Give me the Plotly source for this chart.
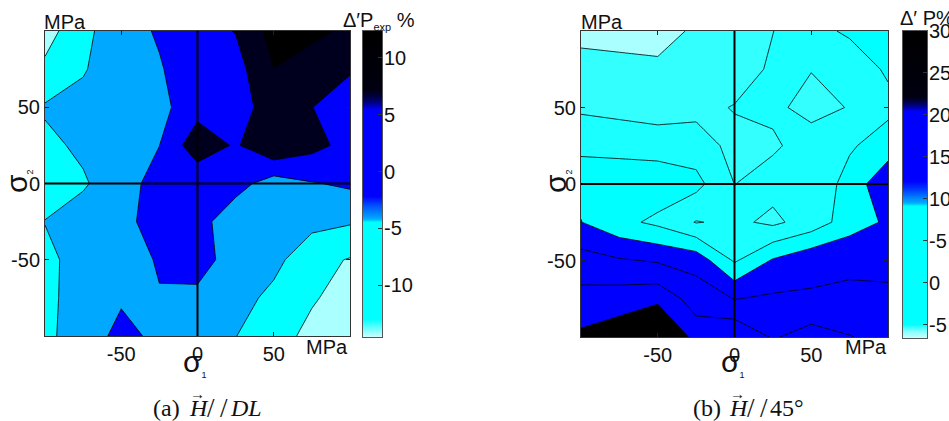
import plotly.graph_objects as go

# ---------------- data ----------------
sigma1 = [-100, -75, -50, -25, 0, 25, 50, 75, 100]
sigma2 = [100, 75, 50, 25, 0, -25, -50, -75, -100]

# (a) H // DL  : Delta'P_exp %
dP_DL = [
    [-12.0, -6.5, -1.5, 0.4, 3.0, 5.2, 11.9, 11.0, 9.2],
    [-9.0, -5.4, -2.0, -0.3, 2.2, 3.06, 9.95, 8.0, 5.3],
    [-4.5, -3.5, -2.0, -1.4, 3.0, 3.15, 7.0, 5.05, 3.4],
    [-6.0, -4.2, -2.0, -0.05, 8.3, 4.37, 9.6, 6.5, 3.375],
    [-7.0, -5.5, -2.4, 2.2, 0.8, 1.9, -2.4, -0.3, 0.8],
    [-4.9, -3.0, -1.5, 2.25, 2.0, -3.3, -3.5, -3.5, -4.5],
    [-6.0, -3.4, -2.0, 0.4, 2.0, -2.2, -3.5, -8.5, -10.3],
    [-6.0, -3.2, -0.6, -0.25, -1.1, -3.0, -6.33, -9.5, -12.0],
    [-6.0, -2.75, 1.5, -1.18, -2.0, -4.9, -8.0, -11.33, -13.0],
]
levels_DL = dict(start=-10, end=10, size=5)
fills_DL = ['#aaffff', '#00ffff', '#00a8ff', '#0000ff', '#00001e', '#000000']

# (b) H // 45deg : Delta'P %  (values in colour-bar position units)
dP_45 = [
    [0.6, 0.5, 0.6, 1.16, 1.5, 1.98, 2.8, 3.1, 3.4],
    [1.5, 1.4, 1.2, 1.3, 1.4, 2.19, 2.02, 2.6, 3.1],
    [1.85, 1.7, 1.5, 1.7, 2.06, 2.13, 1.8, 2.03, 2.8],
    [2.7, 2.65, 2.6, 2.5, 1.7, 1.9, 2.3, 2.9, 3.4],
    [3.77, 3.69, 3.6, 3.3, 1.99, 2.3, 2.4, 3.3, 4.9],
    [4.02, 3.27, 2.79, 1.95, 2.2, 1.8, 2.43, 3.5, 4.16],
    [5.42, 5.1, 4.9, 4.63, 2.88, 4.1, 4.74, 4.9, 4.6],
    [6.33, 6.5, 6.7, 5.55, 4.97, 5.15, 5.1, 5.1, 5.3],
    [7.2, 7.6, 8.8, 6.55, 6.9, 5.9, 6.45, 6.05, 5.6],
]
levels_45 = dict(start=1, end=7, size=1)
fills_45 = ['#aaffff', '#33ffff', '#1affff', '#00ffff',
            '#0000ff', '#0000ff', '#0000ff', '#000000']

axis_ticks = [-50, 0, 50]
axis_ticktext = ['-50', '0', '50']

# colour bars
cbar_DL_stops = [(-14.55, '#c8ffff'), (-13.0, '#00ffff'), (-4.48, '#00ffff'),
                 (-4.2, '#00b0ff'), (-3.95, '#0099ff'), (-3.0, '#0050ff'),
                 (-2.2, '#0000ff'), (5.42, '#0000ff'), (6.0, '#00008c'),
                 (6.6, '#000040'), (7.2, '#000010'), (12.37, '#000000')]
cbar_DL_ticks = [-10, -5, 0, 5, 10]
cbar_DL_ticktext = ['-10', '-5', '0', '5', '10']

cbar_45_stops = [(-6.6, '#c8ffff'), (-5.8, '#80ffff'), (-5.0, '#00ffff'),
                 (9.08, '#00ffff'), (9.5, '#00aaff'), (9.9, '#0090ff'),
                 (11.0, '#0040ff'), (12.06, '#0000ff'), (20.4, '#0000ff'),
                 (21.0, '#000090'), (21.6, '#000040'), (22.2, '#000010'),
                 (30.0, '#000000')]
cbar_45_ticks = [30, 25, 20, 15, 10, 5, 0, -5]
cbar_45_ticktext = ['30', '25', '20', '15', '10', '-5', '0', '-5']

# ---------------- helpers ----------------
W, H = 949, 421
SANS = 'Liberation Sans, Arial, Helvetica, sans-serif'
SERIF = 'Liberation Serif, Times New Roman, serif'


def px(x, y):
    return x / W, 1 - y / H


def band_scale(colors):
    n = len(colors) - 1
    return [[i / n, c] for i, c in enumerate(colors)]


def ramp(stops):
    lo, hi = stops[0][0], stops[-1][0]
    scale = [[(v - lo) / (hi - lo), c] for v, c in stops]
    n = int(round((hi - lo) / 0.02))
    vals = [lo + (hi - lo) * i / n for i in range(n + 1)]
    return vals, scale, lo, hi


fig = go.Figure()

# ---------------- contour plots ----------------
for z, lv, fills, xa, ya in [(dP_DL, levels_DL, fills_DL, 'x', 'y'),
                            (dP_45, levels_45, fills_45, 'x3', 'y3')]:
    fig.add_trace(go.Contour(
        x=sigma1, y=sigma2, z=z, autocontour=False,
        contours=dict(start=lv['start'], end=lv['end'], size=lv['size'],
                      coloring='fill', showlines=True),
        line=dict(color='black', width=0.8, smoothing=0),
        colorscale=band_scale(fills), showscale=False,
        hoverinfo='skip', xaxis=xa, yaxis=ya))

# ---------------- colour bars ----------------
for stops, xa, ya in [(cbar_DL_stops, 'x2', 'y2'), (cbar_45_stops, 'x4', 'y4')]:
    vals, scale, lo, hi = ramp(stops)
    fig.add_trace(go.Heatmap(
        x=[0], y=vals, z=[[v] for v in vals], colorscale=scale,
        zmin=lo, zmax=hi, showscale=False, hoverinfo='skip',
        xaxis=xa, yaxis=ya))

# ---------------- axes ----------------
def main_axes(dx, dy, anchor_x, anchor_y):
    common = dict(range=[-100, 100], tickvals=axis_ticks, ticktext=axis_ticktext,
                  ticks='inside', ticklen=4, tickcolor='#222', showline=True,
                  linecolor='#333', linewidth=1, mirror='allticks',
                  showgrid=False, zeroline=False, automargin=False,
                  tickfont=dict(family=SANS, size=20, color='#111'))
    xa = dict(domain=dx, anchor=anchor_y, **common)
    ya = dict(domain=dy, anchor=anchor_x, **common)
    return xa, ya


def cbar_axes(dx, dy, anchor_x, anchor_y, lo, hi, tv, tt):
    xa = dict(domain=dx, anchor=anchor_y, range=[-0.5, 0.5], showticklabels=False,
              ticks='', showline=True, mirror=True, linecolor='#555', linewidth=1,
              showgrid=False, zeroline=False, automargin=False)
    ya = dict(domain=dy, anchor=anchor_x, side='right', range=[lo, hi],
              tickvals=tv, ticktext=tt, ticks='inside', ticklen=4, tickcolor='#333',
              showline=True, mirror=True, linecolor='#555', linewidth=1,
              showgrid=False, zeroline=False, automargin=False,
              ticklabelstandoff=-3,
              tickfont=dict(family=SANS, size=20, color='#111'))
    return xa, ya


xa1, ya1 = main_axes([45 / W, 350 / W], [1 - 336 / H, 1 - 31 / H], 'x', 'y')
xa3, ya3 = main_axes([581 / W, 888 / W], [1 - 337 / H, 1 - 31 / H], 'x3', 'y3')
xa2, ya2 = cbar_axes([363 / W, 382 / W], [1 - 337 / H, 1 - 31 / H], 'x2', 'y2',
                     cbar_DL_stops[0][0], cbar_DL_stops[-1][0],
                     cbar_DL_ticks, cbar_DL_ticktext)
xa4, ya4 = cbar_axes([903 / W, 927 / W], [1 - 338 / H, 1 - 31 / H], 'x4', 'y4',
                     cbar_45_stops[0][0], cbar_45_stops[-1][0],
                     cbar_45_ticks, cbar_45_ticktext)

fig.update_layout(xaxis=xa1, yaxis=ya1, xaxis2=xa2, yaxis2=ya2,
                  xaxis3=xa3, yaxis3=ya3, xaxis4=xa4, yaxis4=ya4)

# zero (axis-cross) lines
shapes = []
for xr, yr in [('x', 'y'), ('x3', 'y3')]:
    shapes.append(dict(type='line', xref=xr, yref=yr + ' domain', x0=0, x1=0,
                       y0=0, y1=1, line=dict(color='black', width=2), layer='above'))
    shapes.append(dict(type='line', xref=xr + ' domain', yref=yr, x0=0, x1=1,
                       y0=0, y1=0, line=dict(color='black', width=2), layer='above'))

# ---------------- text ----------------
ann = []


def text(t, x, y, xa='center', ya='middle', size=20, fam=SANS, angle=0, color='#111'):
    X, Y = px(x, y)
    ann.append(dict(text=t, x=X, y=Y, xref='paper', yref='paper', xanchor=xa,
                    yanchor=ya, showarrow=False, textangle=angle, borderpad=0,
                    font=dict(family=fam, size=size, color=color)))


small = "<span style='font-size:9px'>%s</span>"
for x0, xr, xl, yl in [(43, 349, 195, 17), (580, 888, 733, 556)]:
    text('MPa', x0, 22, xa='left')
    text('MPa', xr, 347, xa='right')
    text('σ<sub>' + small % '1' + '</sub>', xl, 362, size=30)
    text('σ<sub>' + small % '2' + '</sub>', yl, 181, size=30, angle=-90)

text("Δ′P<sub><span style='font-size:11px'>exp</span></sub> %", 379, 21, size=20)
text("Δ′ P%", 927, 18, size=20)

# captions (pieces so the vector arrow sits over H)
caption_parts = [
    ('(a)', 152, 'upright'), ('H', 188, 'italic'), ('/\u2009/', 206, 'slash'),
    ('DL', 229, 'italic'),
    ('(b)', 692, 'upright'), ('H', 728, 'italic'), ('/\u2009/', 746, 'slash'),
    ('45°', 769, 'upright'),
]
for t, x, style in caption_parts:
    if style == 'italic':
        t = '<i>%s</i>' % t
    text(t, x, 408, xa='left', size=27 if style == 'slash' else 24, fam=SERIF)
for xa_arrow in (197, 737):
    text('→', xa_arrow, 394, size=15, fam=SERIF)

fig.update_layout(width=W, height=H, margin=dict(l=0, r=0, t=0, b=0, autoexpand=False),
                  paper_bgcolor='white', plot_bgcolor='white', showlegend=False,
                  shapes=shapes, annotations=ann)

fig.write_html("out.html", config={'displayModeBar': False},
               post_script="document.body.style.margin='0';document.body.style.overflow='hidden';")
